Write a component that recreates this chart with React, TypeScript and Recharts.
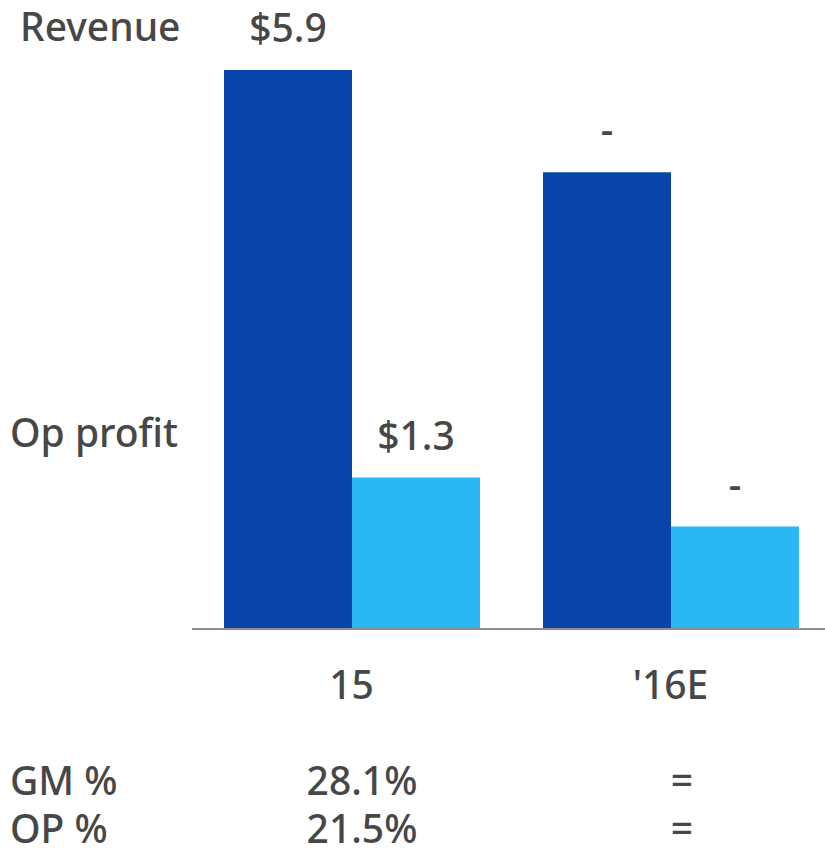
import React from "react";
import { BarChart, Bar, XAxis, YAxis, LabelList } from "recharts";

const categories = ["15", "'16E"];
const revenue = [5.9, 4.82];
const opProfit = [1.3, 0.88];
const revenueLabels = ["$5.9", "-"];
const opProfitLabels = ["$1.3", "-"];

const tableRows = ["GM %", "OP %"];
const tableValues = [
  ["28.1%", "="],
  ["21.5%", "="],
];

const TEXT = "#474747";
const FONT = "'Noto Sans', sans-serif";
const SIZE = 39;

const data = categories.map((cat, i) => ({
  cat,
  revenue: revenue[i],
  opProfit: opProfit[i],
}));

const makeLabel = (labels: string[]) => (props: any) => {
  const { x, y, width, index } = props;
  return (
    <text
      x={Number(x) + Number(width) / 2}
      y={Number(y) - 28}
      textAnchor="middle"
      fontSize={SIZE}
      fontWeight={500}
      fill={TEXT}
      fontFamily={FONT}
    >
      {labels[index]}
    </text>
  );
};

export default function App() {
  return (
    <div
      style={{
        position: "fixed",
        left: 0,
        top: 0,
        width: 825,
        height: 848,
        overflow: "hidden",
        background: "#fff",
        fontFamily: FONT,
      }}
    >
      <BarChart
        width={840}
        height={848}
        data={data}
        margin={{ top: 70, right: 10, bottom: 189, left: 192 }}
        barGap={0}
        barCategoryGap={31}
      >
        <XAxis
          dataKey="cat"
          axisLine={{ stroke: "#8f8f8f", strokeWidth: 2 }}
          tickLine={false}
          tickSize={0}
          tickMargin={42}
          tick={{ fontSize: SIZE, fontWeight: 500, fill: TEXT, fontFamily: FONT }}
        />
        <YAxis yAxisId="rev" domain={[0, 5.9]} hide />
        <YAxis yAxisId="op" domain={[0, 4.8]} hide />

        {/* Bars */}
        <Bar
          yAxisId="rev"
          dataKey="revenue"
          fill="#0745A8"
          barSize={128}
          isAnimationActive={false}
        >
          <LabelList dataKey="revenue" content={makeLabel(revenueLabels)} />
        </Bar>
        <Bar
          yAxisId="op"
          dataKey="opProfit"
          fill="#29B8F2"
          barSize={128}
          isAnimationActive={false}
        >
          <LabelList dataKey="opProfit" content={makeLabel(opProfitLabels)} />
        </Bar>
      </BarChart>

      {/* side labels and table below the axis */}
      <svg
        width={825}
        height={848}
        style={{ position: "absolute", left: 0, top: 0, pointerEvents: "none" }}
      >
        <g fontSize={SIZE} fontWeight={500} fill={TEXT} fontFamily={FONT}>
          <text x={20} y={41}>Revenue</text>
          <text x={10} y={447}>Op profit</text>
          {tableRows.map((row, r) => (
            <g key={row}>
              <text x={10} y={795 + r * 48}>{row}</text>
              <text x={362} y={795 + r * 48} textAnchor="middle">
                {tableValues[r][0]}
              </text>
              <text x={682} y={795 + r * 48} textAnchor="middle">
                {tableValues[r][1]}
              </text>
            </g>
          ))}
        </g>
      </svg>
    </div>
  );
}
